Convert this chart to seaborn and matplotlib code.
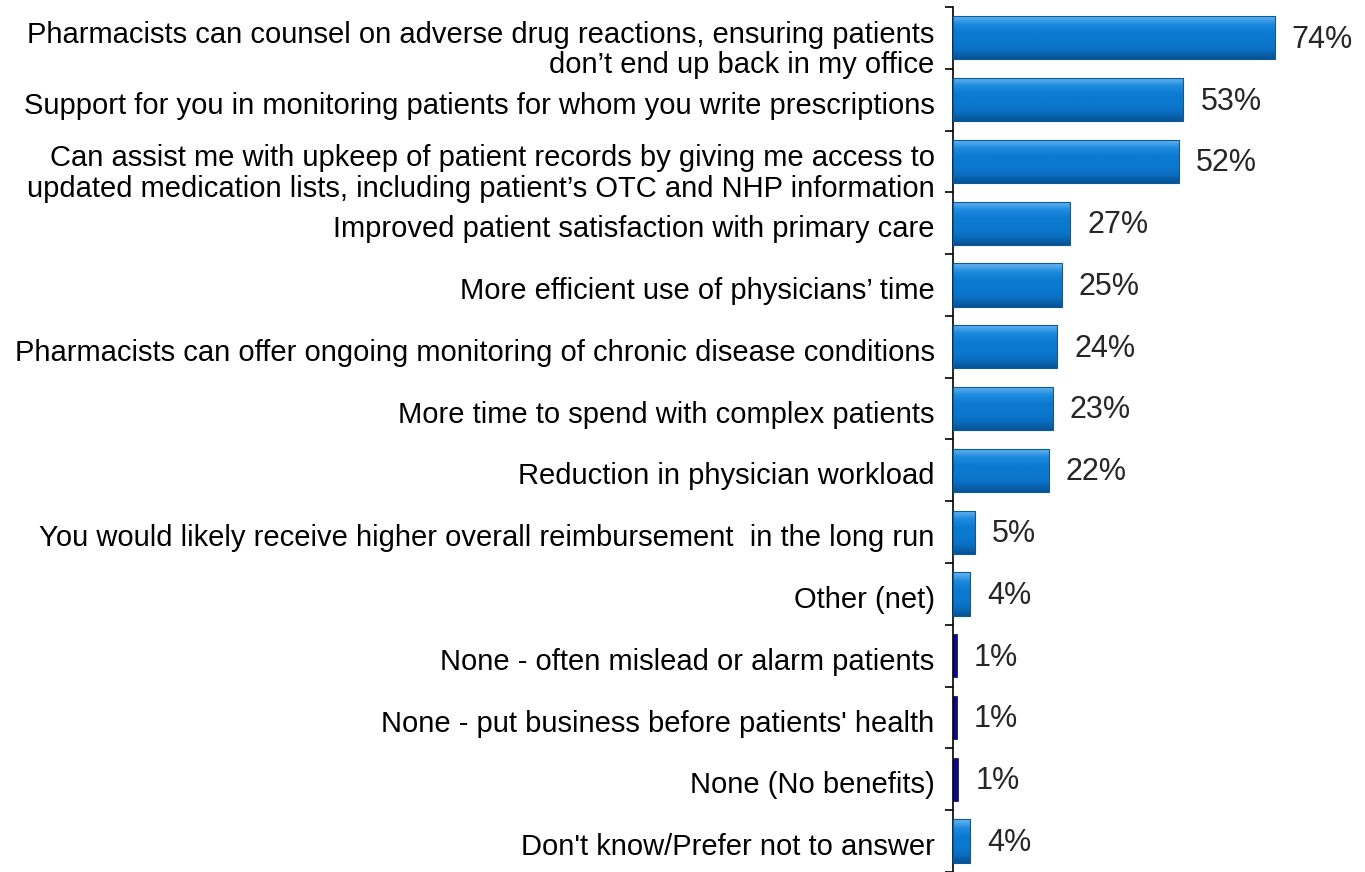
import numpy as np
import pandas as pd
import matplotlib
matplotlib.use("Agg")
import matplotlib.pyplot as plt
import matplotlib.transforms as mtransforms
import seaborn as sns
from matplotlib.colors import LinearSegmentedColormap

categories = [
    "Pharmacists can counsel on adverse drug reactions, ensuring patients\ndon\u2019t end up back in my office",
    "Support for you in monitoring patients for whom you write prescriptions",
    "Can assist me with upkeep of patient records by giving me access to\nupdated medication lists, including patient\u2019s OTC and NHP information",
    "Improved patient satisfaction with primary care",
    "More efficient use of physicians\u2019 time",
    "Pharmacists can offer ongoing monitoring of chronic disease conditions",
    "More time to spend with complex patients",
    "Reduction in physician workload",
    "You would likely receive higher overall reimbursement  in the long run",
    "Other (net)",
    "None - often mislead or alarm patients",
    "None - put business before patients' health",
    "None (No benefits)",
    "Don't know/Prefer not to answer",
]
values = [74, 53, 52, 27, 25, 24, 23, 22, 5, 4, 1, 1, 1, 4]
bar_widths = [74, 53, 52, 27, 25, 24, 23, 22, 5, 4, 0.9, 0.9, 1.3, 4]
groups = ["benefit"] * 10 + ["none"] * 3 + ["benefit"]
labels = [f"{v}%" for v in values]

df = pd.DataFrame({"category": categories, "width": bar_widths, "group": groups})

sns.set_style("white")
plt.rcParams["font.family"] = ["Liberation Sans", "DejaVu Sans"]

fig = plt.figure(figsize=(13.65, 8.72), dpi=100)
ax = fig.add_axes([0.698, 0.0, 0.287, 0.992])

palette = {"benefit": "#0b78cf", "none": "#0a0a8a"}
sns.barplot(data=df, y="category", x="width", hue="group", palette=palette,
            dodge=False, width=0.7, legend=False, ax=ax, orient="h",
            saturation=1)

# bevelled gradient fill for the blue bars
grad = LinearSegmentedColormap.from_list(
    "bevel", ["#6cb6ee", "#1c8ade", "#0b79d0", "#0b79d0", "#0a6fc2", "#075394"])
gimg = np.linspace(0, 1, 64).reshape(-1, 1)
for p in ax.patches:
    fc = p.get_facecolor()
    if fc[2] > 0.7 and fc[0] < 0.2 and fc[1] > 0.3:
        x0, y0 = p.get_x(), p.get_y()
        w, h = p.get_width(), p.get_height()
        im = ax.imshow(gimg, cmap=grad, aspect="auto",
                       extent=[x0, x0 + w, y0 + h, y0], zorder=2,
                       interpolation="bilinear")
        im.set_clip_path(p)
        p.set_edgecolor("#0a5b9e")
        p.set_linewidth(0.8)
        p.set_zorder(3)
        p.set_facecolor("none")
    else:
        p.set_edgecolor("#05055e")
        p.set_linewidth(0.5)

ax.set_xlim(0, 90)
ax.set_ylim(13.5, -0.5)

for i, (w, lab) in enumerate(zip(bar_widths, labels)):
    ax.text(w + 3.9, i + 0.03, lab, va="center", ha="left",
            fontsize=22, color="#262626")

ax.set_xlabel("")
ax.set_ylabel("")
ax.set_xticks([])
ax.set_yticks(range(len(categories)))
ax.set_yticklabels(categories, fontsize=21, color="black",
                   linespacing=1.1)
ax.set_yticks(np.arange(-0.5, len(categories), 1), minor=True)
ax.tick_params(axis="y", which="major", length=0, pad=13)
ax.tick_params(axis="y", which="minor", length=6, width=1.2,
               direction="out", color="black", left=True)

# nudge category labels slightly downward; two-line labels a bit more
for t in ax.get_yticklabels():
    dy = -8 if "\n" in t.get_text() else -3
    t.set_transform(t.get_transform() +
                    mtransforms.ScaledTranslation(0, dy / 100, fig.dpi_scale_trans))

for s in ["top", "right", "bottom"]:
    ax.spines[s].set_visible(False)
ax.spines["left"].set_color("black")
ax.spines["left"].set_linewidth(1.2)

fig.savefig("out.png", dpi=100)
